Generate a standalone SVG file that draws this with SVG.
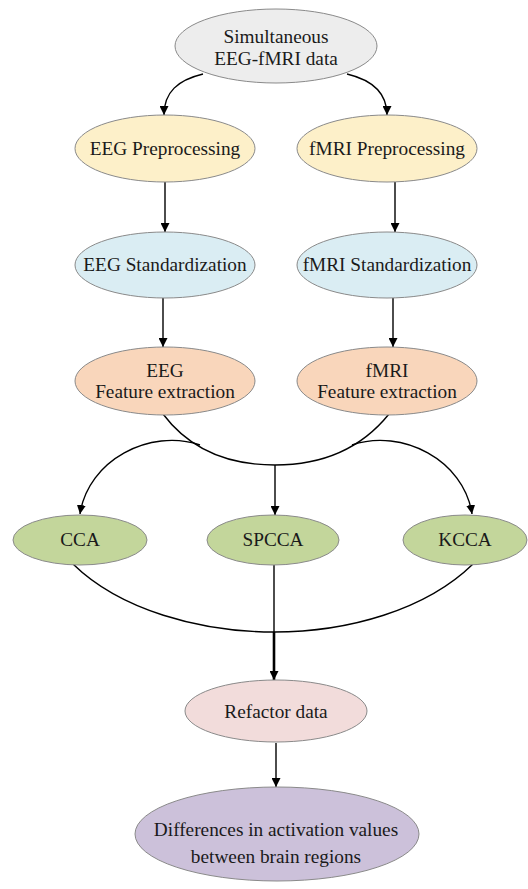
<svg xmlns="http://www.w3.org/2000/svg" width="528" height="889" viewBox="0 0 528 889">
<defs>
<style>
.n{stroke:#8a8a8a;stroke-width:1}
.t{font-family:"Liberation Serif","Times New Roman",serif;font-size:19.3px;fill:#1a1a1a;text-anchor:middle}
.c{fill:none;stroke:#000;stroke-width:1.4}
</style>
<marker id="ah" viewBox="0 0 10 10" refX="10" refY="5" markerWidth="9" markerHeight="9" markerUnits="userSpaceOnUse" orient="auto">
<path d="M0,0 L10,5 L0,10 z" fill="#000"/>
</marker>
</defs>
<rect width="528" height="889" fill="#fff"/>
<g id="connectors">
<path class="c" d="M203,74 C178,80 164,92 164,115" marker-end="url(#ah)"/>
<path class="c" d="M347,74 C372,80 387,92 387,115" marker-end="url(#ah)"/>
<path class="c" d="M165,182 L165,232" marker-end="url(#ah)"/>
<path class="c" d="M395,182 L395,232" marker-end="url(#ah)"/>
<path class="c" d="M163,298 L163,347" marker-end="url(#ah)"/>
<path class="c" d="M393,298 L393,347" marker-end="url(#ah)"/>
<path class="c" d="M163,414 C190,450 230,465 275,465 C320,465 360,450 389,414"/>
<path class="c" d="M200,445 C150,428 88,460 80,514" marker-end="url(#ah)"/>
<path class="c" d="M352,445 C402,428 464,460 472,514" marker-end="url(#ah)"/>
<path class="c" d="M275,465 L275,515" marker-end="url(#ah)"/>
<path class="c" d="M73,564 C120,610 200,632 274,632 C348,632 426,610 473,564"/>
<path class="c" d="M274,565 L274,632"/>
<path fill="none" stroke="#000" stroke-width="2.6" d="M274,632 L274,680" marker-end="url(#ah)"/>
<path class="c" d="M276,743 L276,787" marker-end="url(#ah)"/>
</g>
<g id="simultaneous">
<ellipse class="n" cx="276" cy="46" rx="101" ry="37" fill="#ededed"/>
<text class="t" x="276" y="43">Simultaneous</text>
<text class="t" x="276" y="65">EEG-fMRI data</text>
</g>
<g id="eeg-pre">
<ellipse class="n" cx="165" cy="148.5" rx="90" ry="33.5" fill="#fdf0c9"/>
<text class="t" x="165" y="155">EEG Preprocessing</text>
</g>
<g id="fmri-pre">
<ellipse class="n" cx="387" cy="148.5" rx="90" ry="33.5" fill="#fdf0c9"/>
<text class="t" x="387" y="155">fMRI Preprocessing</text>
</g>
<g id="eeg-std">
<ellipse class="n" cx="165" cy="265" rx="90" ry="33" fill="#daedf3"/>
<text class="t" x="165" y="271">EEG Standardization</text>
</g>
<g id="fmri-std">
<ellipse class="n" cx="387" cy="265" rx="90" ry="33" fill="#daedf3"/>
<text class="t" x="387" y="271">fMRI Standardization</text>
</g>
<g id="eeg-fe">
<ellipse class="n" cx="165" cy="381" rx="90" ry="34" fill="#f9d6bb"/>
<text class="t" x="165" y="377">EEG</text>
<text class="t" x="165" y="398">Feature extraction</text>
</g>
<g id="fmri-fe">
<ellipse class="n" cx="387" cy="381" rx="90" ry="34" fill="#f9d6bb"/>
<text class="t" x="387" y="377">fMRI</text>
<text class="t" x="387" y="398">Feature extraction</text>
</g>
<g id="cca">
<ellipse class="n" cx="80" cy="540" rx="67" ry="25" fill="#c3d69b"/>
<text class="t" x="80" y="546">CCA</text>
</g>
<g id="spcca">
<ellipse class="n" cx="273" cy="540" rx="66" ry="25" fill="#c3d69b"/>
<text class="t" x="273" y="546">SPCCA</text>
</g>
<g id="kcca">
<ellipse class="n" cx="465" cy="540" rx="62" ry="25" fill="#c3d69b"/>
<text class="t" x="465" y="546">KCCA</text>
</g>
<g id="refactor">
<ellipse class="n" cx="276" cy="711" rx="91" ry="31" fill="#f2dcdb"/>
<text class="t" x="276" y="718">Refactor data</text>
</g>
<g id="differences">
<ellipse class="n" cx="277" cy="834" rx="142" ry="47" fill="#ccc1da"/>
<text class="t" x="276" y="836">Differences in activation values</text>
<text class="t" x="276" y="863">between brain regions</text>
</g>
</svg>
